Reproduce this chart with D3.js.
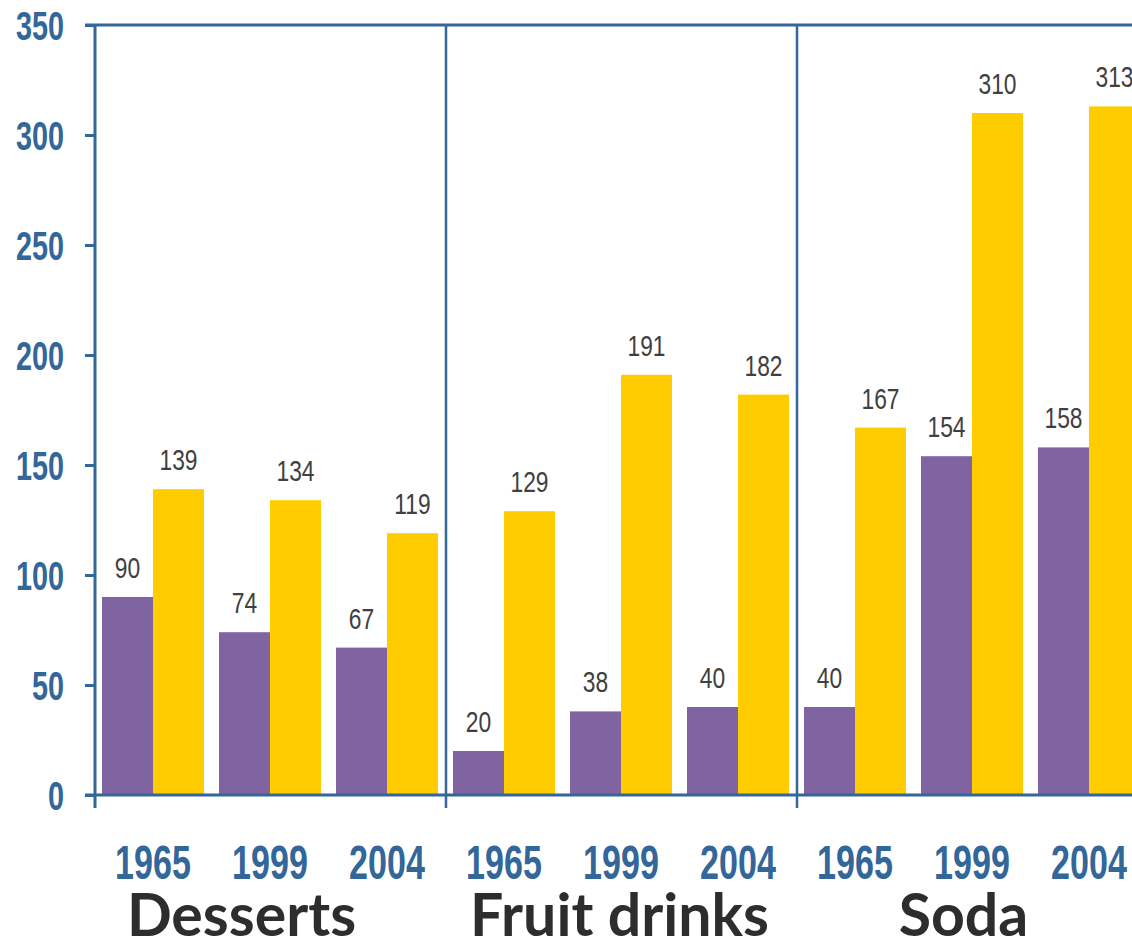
<!DOCTYPE html>
<html>
<head>
<meta charset="utf-8">
<script src="https://cdn.jsdelivr.net/npm/d3@7/dist/d3.min.js"></script>
<style>
  html, body { margin: 0; padding: 0; background: #fff; }
  svg { display: block; }
</style>
</head>
<body>
<svg id="chart" width="1132" height="940"></svg>
<script>
// Calories per category and survey year
const categories = ["Desserts", "Fruit drinks", "Soda"];
const years = ["1965", "1999", "2004"];
const seriesNames = ["A", "B"];
const seriesA = [90, 74, 67, 20, 38, 40, 40, 154, 158];
const seriesB = [139, 134, 119, 129, 191, 182, 167, 310, 313];
const yTicks = [0, 50, 100, 150, 200, 250, 300, 350];

const colors = { A: "#8064a2", B: "#ffcc00" };
const axisColor = "#336699";
const sans = "'Liberation Sans', Arial, sans-serif";

const svg = d3.select("#chart");

const y = d3.scaleLinear().domain([0, 350]).range([795, 25]);
const xCat = d3.scaleBand().domain(categories).range([95, 95 + 351 * 3]);
const xYear = d3.scaleBand().domain(years).range([0, xCat.bandwidth()]);
const xSer = d3.scaleBand().domain(seriesNames).range([7, 109]);

const rows = [];
categories.forEach((c, ci) => {
  years.forEach((yr, yi) => {
    const i = ci * years.length + yi;
    rows.push({ cat: c, year: yr, series: "A", value: seriesA[i] });
    rows.push({ cat: c, year: yr, series: "B", value: seriesB[i] });
  });
});
const barX = d => xCat(d.cat) + xYear(d.year) + xSer(d.series);

// bars
svg.append("g").selectAll("rect").data(rows).join("rect")
  .attr("x", barX)
  .attr("y", d => y(d.value))
  .attr("width", xSer.bandwidth())
  .attr("height", d => y(0) - y(d.value))
  .attr("fill", d => colors[d.series]);

// value labels (condensed)
svg.append("g").selectAll("text").data(rows).join("text")
  .attr("transform", d => `translate(${barX(d) + xSer.bandwidth() / 2},${y(d.value) - 19}) scale(0.76,1.01)`)
  .attr("text-anchor", "middle")
  .attr("font-family", sans)
  .attr("font-size", 30)
  .attr("fill", "#404040")
  .text(d => d.value);

// y axis
const yAxis = svg.append("g").attr("transform", "translate(95,0)")
  .call(d3.axisLeft(y).tickValues(yTicks).tickSize(10).tickPadding(0).tickFormat(d3.format("d")));
yAxis.select(".domain").remove();
yAxis.selectAll(".tick line").attr("stroke", axisColor).attr("stroke-width", 3);
yAxis.selectAll(".tick text").remove();
yAxis.selectAll(".tick").append("text")
  .attr("transform", "translate(-31,14) scale(0.72,1)")
  .attr("text-anchor", "end")
  .attr("font-family", sans)
  .attr("font-weight", "bold")
  .attr("font-size", 40)
  .attr("fill", axisColor)
  .text(d => d);

// frame: left axis, top border, baseline and group separators
const frame = svg.append("g").attr("stroke", axisColor).attr("stroke-width", 3);
frame.append("line").attr("x1", 95).attr("x2", 95).attr("y1", y(350)).attr("y2", 808);
frame.append("line").attr("x1", 85).attr("x2", 1132).attr("y1", y(350)).attr("y2", y(350));
frame.append("line").attr("x1", 85).attr("x2", 1132).attr("y1", y(0)).attr("y2", y(0));
frame.selectAll(".sep").data(categories.slice(1)).join("line")
  .attr("class", "sep")
  .attr("x1", d => xCat(d)).attr("x2", d => xCat(d))
  .attr("y1", y(350)).attr("y2", 808)
  .attr("stroke-width", 2.5);

// year labels (condensed)
const yearRows = [];
categories.forEach(c => years.forEach(yr => yearRows.push({ cat: c, year: yr })));
svg.append("g").selectAll("text").data(yearRows).join("text")
  .attr("transform", d => `translate(${xCat(d.cat) + xYear(d.year) + 58},879) scale(0.71,1)`)
  .attr("text-anchor", "middle")
  .attr("font-family", sans)
  .attr("font-weight", "bold")
  .attr("font-size", 48)
  .attr("fill", axisColor)
  .text(d => d.year);

// category labels
const catShift = { "Desserts": -29, "Fruit drinks": -2, "Soda": -9 };
svg.append("g").selectAll("text").data(categories).join("text")
  .attr("x", d => xCat(d) + xCat.bandwidth() / 2 + catShift[d])
  .attr("y", 936)
  .attr("text-anchor", "middle")
  .attr("font-family", "Lato, sans-serif")
  .attr("font-weight", "bold")
  .attr("font-size", 59)
  .attr("fill", "#2d2d2d")
  .text(d => d);
</script>
</body>
</html>
